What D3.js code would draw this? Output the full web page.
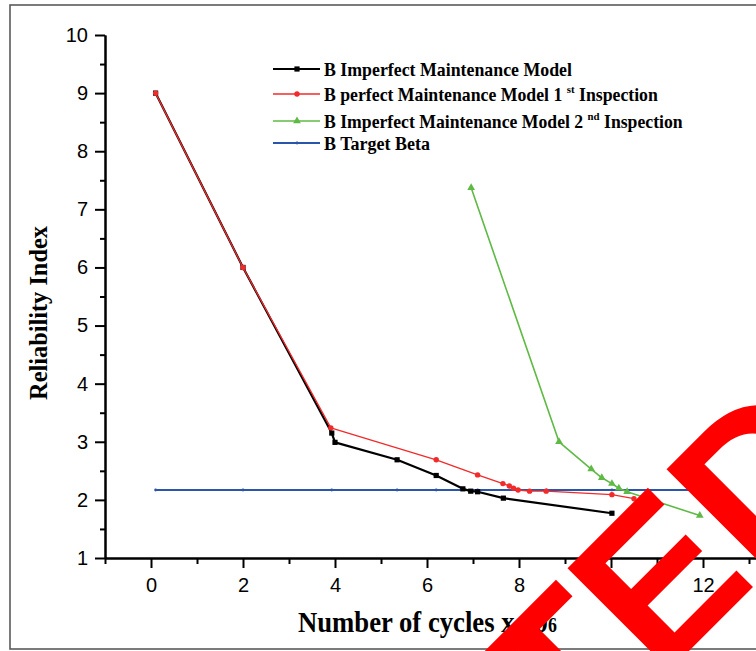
<!DOCTYPE html>
<html><head><meta charset="utf-8">
<script src="https://cdn.jsdelivr.net/npm/d3@7"></script>
<style>html,body{margin:0;padding:0;background:#fff;}svg{display:block;}</style>
</head><body>
<svg id="chart" width="756" height="651"></svg>
<script>
// ---- data ----
const blackX = [0.1, 2, 3.93, 4.0, 5.35, 6.2, 6.78, 6.95, 7.1, 7.66, 10.02];
const blackY = [9.0, 6.0, 3.15, 2.99, 2.69, 2.42, 2.19, 2.15, 2.14, 2.03, 1.77];
const redX = [0.1, 2, 3.91, 6.2, 7.1, 7.65, 7.79, 7.88, 7.98, 8.23, 8.59, 10.02, 10.5];
const redY = [9.0, 6.0, 3.24, 2.69, 2.43, 2.28, 2.24, 2.2, 2.17, 2.15, 2.15, 2.09, 2.02];
const greenX = [6.96, 8.87, 9.57, 9.8, 10.02, 10.17, 10.35, 11.93];
const greenY = [7.37, 3.0, 2.53, 2.38, 2.28, 2.2, 2.14, 1.73];
const blueX = [0.1, 2, 3.93, 5.35, 6.2, 7.1, 8.0, 8.6, 10.02, 12];
const blueY = [2.17, 2.17, 2.17, 2.17, 2.17, 2.17, 2.17, 2.17, 2.17, 2.17];
const xMajorTicks = [0, 2, 4, 6, 8, 10, 12];
const xMinorTicks = [-1, 1, 3, 5, 7, 9, 11, 13];
const yMajorTicks = [1, 2, 3, 4, 5, 6, 7, 8, 9, 10];
const yMinorTicks = [1.5, 2.5, 3.5, 4.5, 5.5, 6.5, 7.5, 8.5, 9.5];
const legendLabels = [
  ["B Imperfect Maintenance Model"],
  ["B perfect Maintenance Model 1 ", "st", " Inspection"],
  ["B Imperfect Maintenance Model 2 ", "nd", " Inspection"],
  ["B Target Beta"]
];
const yTitle = "Reliability Index";
const xTitleMain = "Number of cycles x 10";
const xTitleExp = "6";
const stampText = "ACCEPTED";

// ---- chart ----
const svg = d3.select("#chart");
svg.append("rect").attr("x",0).attr("y",0).attr("width",756).attr("height",651).attr("fill","#fff");
svg.append("rect").attr("x",10).attr("y",5).attr("width",800).attr("height",644)
  .attr("fill","none").attr("stroke","#5a5a5a").attr("stroke-width",1.6);

const x = d3.scaleLinear().domain([-1, 13.2]).range([105, 105 + 14.2*46]);
const y = d3.scaleLinear().domain([1, 10]).range([558, 35]);

const tickFont = "'Liberation Sans', Arial, sans-serif";
function styleAxis(g){
  g.select(".domain").attr("stroke","#000").attr("stroke-width",2);
  g.selectAll(".tick line").attr("stroke","#000").attr("stroke-width",2);
  g.selectAll(".tick text").attr("font-family",tickFont).attr("font-size",20).attr("fill","#000");
}
// x axis
svg.append("g").attr("transform","translate(0,558)")
  .call(d3.axisBottom(x).tickValues(xMinorTicks).tickSize(6).tickSizeOuter(0).tickFormat(""))
  .call(styleAxis);
svg.append("g").attr("transform","translate(0,558)")
  .call(d3.axisBottom(x).tickValues(xMajorTicks).tickSize(10).tickSizeOuter(0).tickPadding(10).tickFormat(d3.format("d")))
  .call(styleAxis);
// y axis
svg.append("g").attr("transform","translate(105,0)")
  .call(d3.axisLeft(y).tickValues(yMinorTicks).tickSize(5).tickSizeOuter(0).tickFormat(""))
  .call(styleAxis);
svg.append("g").attr("transform","translate(105,0)")
  .call(d3.axisLeft(y).tickValues(yMajorTicks).tickSize(10).tickSizeOuter(0).tickPadding(7).tickFormat(d3.format("d")))
  .call(styleAxis);

// series
const series = [
  {xs: blueX, ys: blueY, color: "#2b55aa", width: 2, marker: "dot"},
  {xs: blackX, ys: blackY, color: "#000", width: 2.2, marker: "square"},
  {xs: redX, ys: redY, color: "#f22a2a", width: 1.3, marker: "circle"},
  {xs: greenX, ys: greenY, color: "#5fba45", width: 1.6, marker: "triangle"}
];
const line = d3.line().x(d=>x(d[0])).y(d=>y(d[1]));
function drawMarker(g, type, cx, cy, color){
  if(type==="square") g.append("rect").attr("x",cx-2.6).attr("y",cy-2.6).attr("width",5.2).attr("height",5.2).attr("fill",color);
  else if(type==="circle") g.append("circle").attr("cx",cx).attr("cy",cy).attr("r",2.7).attr("fill",color);
  else if(type==="triangle") g.append("path").attr("d",d3.symbol(d3.symbolTriangle,26)()).attr("transform",`translate(${cx},${cy})`).attr("fill",color);
  else g.append("circle").attr("cx",cx).attr("cy",cy).attr("r",1.4).attr("fill",color);
}
series.forEach(s=>{
  const pts = s.xs.map((v,i)=>[v, s.ys[i]]);
  svg.append("path").datum(pts).attr("d",line).attr("fill","none").attr("stroke",s.color).attr("stroke-width",s.width).attr("stroke-linejoin","round");
  const g = svg.append("g");
  pts.forEach(p=>drawMarker(g, s.marker, x(p[0]), y(p[1]), s.color));
});

// fit text horizontally
function fitText(sel, x0, width){
  const w = sel.node().getComputedTextLength();
  const baseY = +sel.attr("data-y");
  sel.attr("transform",`translate(${x0},${baseY}) scale(${width/w},1)`);
}
const serif = "'Liberation Serif','Times New Roman',serif";
// legend
const legendColors = ["#000","#f22a2a","#5fba45","#2b55aa"];
const legendMarkers = ["square","circle","triangle","dot"];
const legendLineY = [69, 94, 121, 143];
const legendWidths = [248, 334, 359, 106];
legendLabels.forEach((parts,i)=>{
  const ly = legendLineY[i];
  svg.append("line").attr("x1",273).attr("x2",320).attr("y1",ly).attr("y2",ly)
    .attr("stroke",legendColors[i]).attr("stroke-width", i===0?2.2:(i===3?2:1.6));
  drawMarker(svg.append("g"), legendMarkers[i], 297, ly, legendColors[i]);
  const t = svg.append("text").attr("data-y", ly+7).attr("font-family",serif).attr("font-weight","bold")
    .attr("font-size",18).attr("fill","#000");
  parts.forEach((p,j)=>{
    if(j===1) t.append("tspan").attr("font-size",11).attr("dy",-8).text(p);
    else if(j===2) t.append("tspan").attr("dy",8).text(p);
    else t.append("tspan").text(p);
  });
  t.attr("transform",`translate(324,${ly+7})`);
  fitText(t, 324, legendWidths[i]);
});

// axis titles
const xt = svg.append("text").attr("data-y",632).attr("font-family",serif).attr("font-weight","bold")
  .attr("font-size",30).attr("fill","#000");
xt.append("tspan").text(xTitleMain);
xt.append("tspan").attr("font-size",20).text(xTitleExp);
fitText(xt, 298, 259);

const yt = svg.append("text").attr("font-family",serif).attr("font-weight","bold")
  .attr("font-size",25).attr("fill","#000").attr("text-anchor","middle")
  .attr("transform","translate(47,313) rotate(-90)").text(yTitle);
const yw = yt.node().getComputedTextLength();
yt.attr("transform",`translate(47,313) rotate(-90) scale(${174/yw},1)`);

// red stamp overlay
svg.append("text").attr("font-family","'Liberation Sans', Arial, sans-serif").attr("font-weight","bold")
  .attr("font-size",210).attr("fill","#ff0000").attr("text-anchor","end")
  .attr("transform","translate(866,474) rotate(-45)").text(stampText);
</script>
</body></html>
